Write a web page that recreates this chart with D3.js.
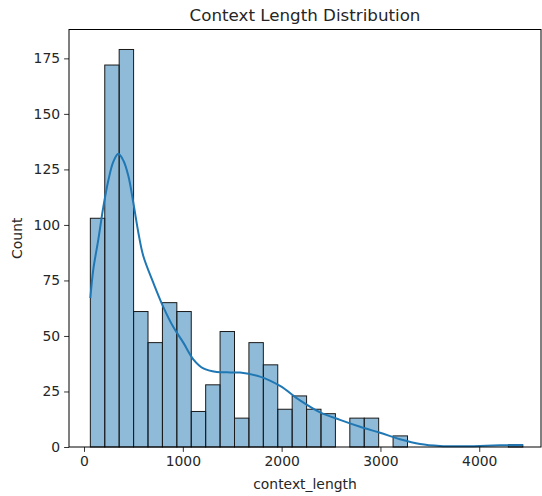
<!DOCTYPE html>
<html>
<head>
<meta charset="utf-8">
<script src="https://cdn.jsdelivr.net/npm/d3@7"></script>
<style>
  body { margin: 0; background: #fff; }
  svg text { font-family: "DejaVu Sans", sans-serif; fill: #262626; }
</style>
</head>
<body>
<div id="chart"></div>
<script>
// histogram: first edge, bin width, counts per bin
var binStart = 64;
var binWidth = 145.9;
var counts = [103, 172, 179, 61, 47, 65, 61, 16, 28, 52, 13, 47, 37, 17, 23, 17, 15, 0, 13, 13, 0, 5, 0, 0, 0, 0, 0, 0, 0, 1];

// kde curve (x value, count scale)
var kdeX = [64, 94, 145, 195, 246, 297, 347, 398, 449, 499, 550, 600, 701, 803, 904, 1005, 1106, 1208, 1343, 1478, 1579, 1781, 1984, 2186, 2389, 2591, 2794, 2996, 3198, 3401, 3603, 3806, 4008, 4211, 4440];
var kdeY = [67, 80, 93.5, 108, 120, 128.5, 132, 129, 122, 110, 96.5, 86, 74, 63, 54, 47, 39.5, 35.4, 33.8, 33.6, 33.5, 31.7, 27.5, 21, 15.6, 12.2, 9.1, 6.4, 3.5, 1.35, 0.45, 0.3, 0.45, 0.75, 0.9];

var xTicks = [0, 1000, 2000, 3000, 4000];
var yTicks = [0, 25, 50, 75, 100, 125, 150, 175];

var width = 542, height = 496;
var margin = {top: 29.5, right: 1, bottom: 49, left: 69};

var svg = d3.select('#chart').append('svg')
  .attr('width', width)
  .attr('height', height);

var x = d3.scaleLinear()
  .domain([-152, 4625])
  .range([margin.left, width - margin.right]);

var y = d3.scaleLinear()
  .domain([0, 188])
  .range([height - margin.bottom, margin.top]);

var bins = counts.map(function(c, i) {
  return {x0: binStart + i * binWidth, x1: binStart + (i + 1) * binWidth, n: c};
}).filter(function(d) { return d.n > 0; });

svg.append('g')
  .selectAll('rect')
  .data(bins)
  .enter()
  .append('rect')
  .attr('x', function(d) { return x(d.x0); })
  .attr('y', function(d) { return y(d.n); })
  .attr('width', function(d) { return x(d.x1) - x(d.x0); })
  .attr('height', function(d) { return y(0) - y(d.n); })
  .style('fill', 'rgba(31,119,180,0.5)')
  .style('stroke', '#1a1a1a')
  .style('stroke-width', 1);

var line = d3.line()
  .x(function(d, i) { return x(kdeX[i]); })
  .y(function(d) { return y(d); })
  .curve(d3.curveCatmullRom.alpha(0.5));

svg.append('path')
  .datum(kdeY)
  .attr('d', line)
  .style('fill', 'none')
  .style('stroke', '#1f77b4')
  .style('stroke-width', 2);

// axes
var xAxis = svg.append('g')
  .attr('transform', 'translate(0,' + (height - margin.bottom) + ')')
  .call(d3.axisBottom(x).tickValues(xTicks).tickFormat(d3.format('d')).tickSize(4.9).tickPadding(4));

var yAxis = svg.append('g')
  .attr('transform', 'translate(' + margin.left + ',0)')
  .call(d3.axisLeft(y).tickValues(yTicks).tickFormat(d3.format('d')).tickSize(4.9).tickPadding(4));

[xAxis, yAxis].forEach(function(a) {
  a.select('.domain').remove();
  a.selectAll('line').style('stroke', '#000').style('stroke-width', 0.8);
  a.selectAll('text').style('font-size', '13.9px').style('fill', '#262626')
    .style('font-family', '"DejaVu Sans", sans-serif');
});

// frame
svg.append('rect')
  .attr('x', margin.left)
  .attr('y', margin.top)
  .attr('width', width - margin.right - margin.left)
  .attr('height', height - margin.bottom - margin.top)
  .style('fill', 'none')
  .style('stroke', '#000')
  .style('stroke-width', 1);

svg.append('text')
  .attr('x', (margin.left + width - margin.right) / 2)
  .attr('y', 21)
  .attr('text-anchor', 'middle')
  .style('font-size', '16.7px')
  .text('Context Length Distribution');

svg.append('text')
  .attr('x', (margin.left + width - margin.right) / 2)
  .attr('y', 489)
  .attr('text-anchor', 'middle')
  .style('font-size', '13.9px')
  .text('context_length');

svg.append('text')
  .attr('transform', 'translate(22,' + ((margin.top + height - margin.bottom) / 2) + ') rotate(-90)')
  .attr('text-anchor', 'middle')
  .style('font-size', '13.9px')
  .text('Count');
</script>
</body>
</html>
